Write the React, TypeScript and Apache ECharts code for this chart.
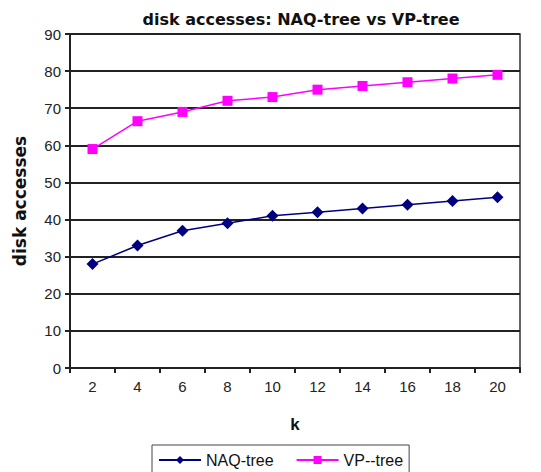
import React, { useEffect, useRef } from "react";
import * as echarts from "echarts";

const kValues = ["2", "4", "6", "8", "10", "12", "14", "16", "18", "20"];
const naqTree = [28, 33, 37, 39, 41, 42, 43, 44, 45, 46];
const vpTree = [59, 66.5, 69, 72, 73, 75, 76, 77, 78, 79];

const FONT = "'Liberation Sans', Arial, sans-serif";
const WIDE = "'DejaVu Sans', sans-serif";

export default function App() {
  const ref = useRef<HTMLDivElement>(null);

  useEffect(() => {
    if (!ref.current) return;
    const chart = echarts.init(ref.current, null, { renderer: "svg" });
    chart.setOption({
      animation: false,
      backgroundColor: "#fff",
      title: {
        text: "disk accesses: NAQ-tree vs VP-tree",
        left: 296,
        top: 6,
        textAlign: "center",
        textStyle: { fontFamily: WIDE, fontSize: 16, fontWeight: "bold", color: "#111" },
      },
      grid: {
        left: 70,
        right: 21,
        top: 34,
        bottom: 104,
        outerBoundsMode: "none",
        containLabel: false,
        show: true,
        borderColor: "#333",
        borderWidth: 1.5,
        backgroundColor: "transparent",
      },
      legend: {
        top: 445,
        left: 152,
        itemWidth: 42,
        itemHeight: 10,
        itemGap: 22,
        padding: [7, 6, 12, 6],
        borderColor: "#444",
        borderWidth: 1,
        textStyle: { fontFamily: FONT, fontSize: 16, color: "#111" },
        data: ["NAQ-tree", "VP--tree"],
      },
      xAxis: {
        type: "category",
        data: kValues,
        boundaryGap: true,
        name: "k",
        nameLocation: "middle",
        nameGap: 48,
        nameTextStyle: { fontFamily: FONT, fontSize: 17, fontWeight: "bold", color: "#111" },
        axisLine: { lineStyle: { color: "#222", width: 2 } },
        axisTick: { show: true, length: 5, lineStyle: { color: "#222", width: 2 } },
        axisLabel: { fontFamily: FONT, fontSize: 15, color: "#222", margin: 11 },
      },
      yAxis: {
        type: "value",
        min: 0,
        max: 90,
        interval: 10,
        name: "disk accesses",
        nameLocation: "middle",
        nameGap: 42,
        nameTextStyle: { fontFamily: WIDE, fontSize: 17, fontWeight: "bold", color: "#111" },
        axisLine: { show: true, lineStyle: { color: "#222", width: 2 } },
        axisTick: { show: true, length: 5, lineStyle: { color: "#222", width: 2 } },
        axisLabel: { fontFamily: FONT, fontSize: 15, color: "#222", margin: 9 },
        splitLine: { lineStyle: { color: "#222", width: 1.8 } },
      },
      series: [
        {
          name: "NAQ-tree",
          type: "line",
          data: naqTree,
          symbol: "diamond",
          symbolSize: 12,
          color: "#000080",
          lineStyle: { color: "#000080", width: 1.5 },
          itemStyle: { color: "#000080" },
        },
        {
          name: "VP--tree",
          type: "line",
          data: vpTree,
          symbol: "rect",
          symbolSize: 10,
          color: "#FF00FF",
          lineStyle: { color: "#FF00FF", width: 1.5 },
          itemStyle: { color: "#FF00FF" },
        },
      ],
    });
    return () => chart.dispose();
  }, []);

  return (
    <div
      ref={ref}
      style={{ position: "fixed", left: 0, top: 0, width: 541, height: 472 }}
    />
  );
}
